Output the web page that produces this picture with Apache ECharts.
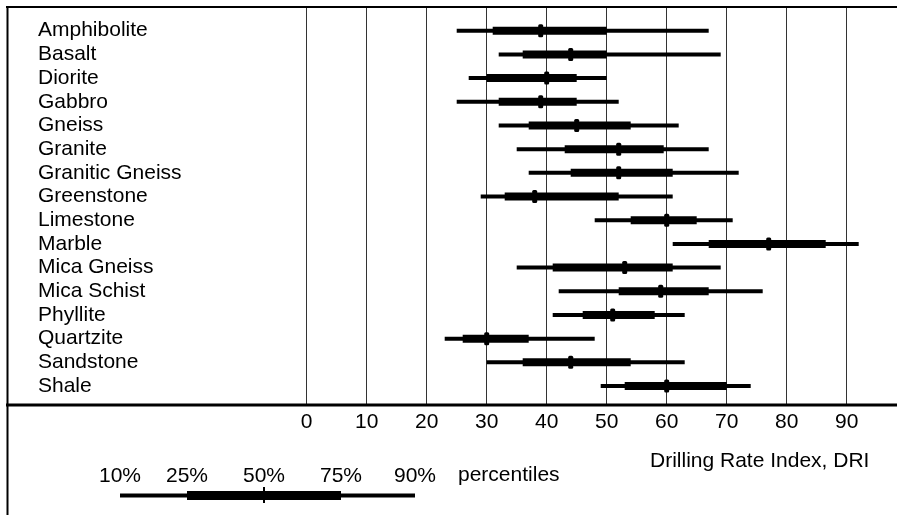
<!DOCTYPE html>
<html><head><meta charset="utf-8">
<script src="https://cdn.jsdelivr.net/npm/echarts@6/dist/echarts.min.js"></script>
<style>html,body{margin:0;padding:0;background:#fff}#c{width:897px;height:515px}</style>
</head><body><div id="c"></div>
<script>
const rocks = ['Amphibolite','Basalt','Diorite','Gabbro','Gneiss','Granite','Granitic Gneiss','Greenstone','Limestone','Marble','Mica Gneiss','Mica Schist','Phyllite','Quartzite','Sandstone','Shale'];
const p10 = [25, 32, 27, 25, 32, 35, 37, 29, 48, 61, 35, 42, 41, 23, 30, 49];
const p25 = [31, 36, 30, 32, 37, 43, 44, 33, 54, 67, 41, 52, 46, 26, 36, 53];
const p50 = [39, 44, 40, 39, 45, 52, 52, 38, 60, 77, 53, 59, 51, 30, 44, 60];
const p75 = [50, 50, 45, 45, 54, 59.5, 61, 52, 65, 86.5, 61, 67, 58, 37, 54, 70];
const p90 = [67, 69, 50, 52, 62, 67, 72, 61, 71, 92, 69, 76, 63, 48, 63, 74];
const xTickLabels = ['0','10','20','30','40','50','60','70','80','90'];
const legendLabels = ['10%','25%','50%','75%','90%'];
const xTitle = 'Drilling Rate Index, DRI';
const legendTitle = 'percentiles';

const FONT = "'Liberation Sans', Arial, sans-serif";
const chart = echarts.init(document.getElementById('c'), null, {renderer:'canvas'});

const data = rocks.map((r, i) => [i, p10[i], p25[i], p50[i], p75[i], p90[i]]);

// legend key geometry (illustrative key, not data)
const legX = [120, 187, 264, 341, 415];

chart.setOption({
  animation: false,
  backgroundColor: '#fff',
  grid: { left: 306.7, top: 7, width: 540, height: 398, containLabel: false },
  xAxis: {
    type: 'value', min: 0, max: 90, interval: 10,
    axisLine: { show: false }, axisTick: { show: false },
    splitLine: { show: true, lineStyle: { color: '#333', width: 1 } },
    axisLabel: {
      margin: 7, color: '#000', fontSize: 21, fontFamily: FONT,
      showMaxLabel: true, showMinLabel: true,
      formatter: v => xTickLabels[Math.round(v / 10)]
    }
  },
  yAxis: {
    type: 'value', inverse: true, min: -1, max: 15.8, interval: 1,
    axisLine: { show: false }, axisTick: { show: false }, splitLine: { show: false },
    axisLabel: {
      align: 'left', margin: 268.7, color: '#000', fontSize: 21, fontFamily: FONT,
      formatter: v => (Number.isInteger(v) && v >= 0 && v < rocks.length ? rocks[v] : '')
    }
  },
  series: [{
    type: 'custom',
    data: data,
    encode: { x: [1, 2, 3, 4, 5], y: 0 },
    renderItem: (params, api) => {
      const i = api.value(0);
      const a = api.coord([api.value(1), i]);
      const b = api.coord([api.value(2), i]);
      const m = api.coord([api.value(3), i]);
      const c = api.coord([api.value(4), i]);
      const d = api.coord([api.value(5), i]);
      return { type: 'group', children: [
        { type: 'line', shape: { x1: a[0], y1: a[1], x2: d[0], y2: d[1] }, style: { stroke: '#000', lineWidth: 4 } },
        { type: 'rect', shape: { x: b[0], y: b[1] - 4, width: c[0] - b[0], height: 8 }, style: { fill: '#000' } },
        { type: 'rect', shape: { x: m[0] - 2.5, y: m[1] - 6.5, width: 5, height: 13, r: 1.5 }, style: { fill: '#000' } }
      ]};
    }
  }],
  graphic: [
    { type: 'line', shape: { x1: 6, y1: 7, x2: 897, y2: 7 }, style: { stroke: '#000', lineWidth: 2 }, z: 10 },
    { type: 'line', shape: { x1: 7.5, y1: 6, x2: 7.5, y2: 515 }, style: { stroke: '#000', lineWidth: 2 }, z: 10 },
    { type: 'line', shape: { x1: 6, y1: 405, x2: 897, y2: 405 }, style: { stroke: '#000', lineWidth: 3 }, z: 10 },
    { type: 'text', left: 650, top: 451, style: { text: xTitle, font: '21px ' + FONT, fill: '#000' } },
    { type: 'text', left: 458, top: 465, style: { text: legendTitle, font: '21px ' + FONT, fill: '#000' } },
    ...legendLabels.map((t, k) => ({ type: 'text', x: legX[k], y: 476, style: { text: t, font: '21px ' + FONT, fill: '#000', align: 'center', verticalAlign: 'middle' } })),
    { type: 'line', shape: { x1: legX[0], y1: 495.5, x2: legX[4], y2: 495.5 }, style: { stroke: '#000', lineWidth: 4 } },
    { type: 'rect', shape: { x: legX[1], y: 491, width: legX[3] - legX[1], height: 9 }, style: { fill: '#000' } },
    { type: 'line', shape: { x1: legX[2], y1: 487, x2: legX[2], y2: 503 }, style: { stroke: '#000', lineWidth: 2 } }
  ]
});
</script></body></html>
